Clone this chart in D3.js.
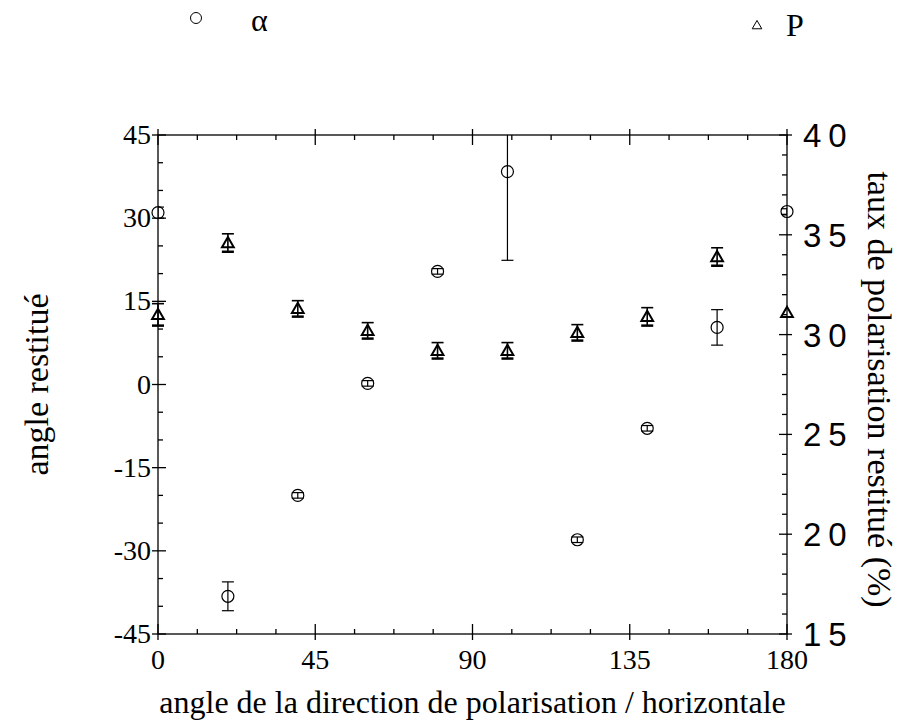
<!DOCTYPE html>
<html>
<head>
<meta charset="utf-8">
<script src="https://cdn.jsdelivr.net/npm/d3@7"></script>
<style>
  body { margin: 0; background: #fff; }
  svg { display: block; }
  text { fill: #000; }
</style>
</head>
<body>
<svg></svg>
<script>
const width = 910;
const height = 724;
const margin = { top: 135, right: 123, bottom: 90, left: 158 };

// input angle (deg)
const angles = [0, 20, 40, 60, 80, 100, 120, 140, 160, 180];
// restored angle alpha (deg) and its error
const alpha = [31, -38.2, -20, 0.2, 20.4, 38.4, -28, -7.9, 10.3, 31.2];
const alphaErr = [1, 2.6, 0.5, 0.5, 0.5, 16, 0.5, 0.5, 3.2, 0.5];
// restored polarisation rate P (%) and its error
const rate = [31.0, 34.6, 31.3, 30.2, 29.2, 29.2, 30.1, 30.9, 33.9, 31.1];
const rateErr = [0.55, 0.45, 0.4, 0.4, 0.4, 0.4, 0.4, 0.45, 0.45, 0];

const xTicks = [0, 45, 90, 135, 180];
const yLeftTicks = [-45, -30, -15, 0, 15, 30, 45];
const yRightTicks = [15, 20, 25, 30, 35, 40];

const svg = d3.select('svg')
  .attr('width', width)
  .attr('height', height);

const x = d3.scaleLinear().domain([0, 180]).range([margin.left, width - margin.right]);
const yL = d3.scaleLinear().domain([-45, 45]).range([height - margin.bottom, margin.top]);
const yR = d3.scaleLinear().domain([15, 40]).range([height - margin.bottom, margin.top]);

const serif = 'Liberation Serif, Times New Roman, serif';
const sans = 'Liberation Sans, Arial, sans-serif';

svg.append('clipPath').attr('id', 'plot')
  .append('rect')
    .attr('x', x(0)).attr('y', yL(45))
    .attr('width', x(180) - x(0)).attr('height', yL(-45) - yL(45));

// axis frame
const frame = svg.append('g').attr('stroke', '#000').attr('stroke-width', 1.3).attr('fill', 'none');
frame.append('rect')
  .attr('x', x(0)).attr('y', yL(45))
  .attr('width', x(180) - x(0)).attr('height', yL(-45) - yL(45));

// x ticks, bottom and top (minor every 11.25)
d3.range(0, 180.01, 11.25).forEach(v => {
  const major = xTicks.includes(v);
  const len = major ? 10 : 5;
  frame.append('line')
    .attr('x1', x(v)).attr('x2', x(v))
    .attr('y1', yL(-45) + (major ? 6 : 0)).attr('y2', yL(-45) - len);
  frame.append('line')
    .attr('x1', x(v)).attr('x2', x(v))
    .attr('y1', yL(45) - (major ? 6 : 0)).attr('y2', yL(45) + len);
});

// left ticks (minor every 5)
d3.range(-45, 45.01, 5).forEach(v => {
  const major = yLeftTicks.includes(v);
  frame.append('line')
    .attr('x1', x(0) - (major ? 6 : 0)).attr('x2', x(0) + (major ? 8 : 5))
    .attr('y1', yL(v)).attr('y2', yL(v));
});

// right ticks (minor every 1)
d3.range(15, 40.01, 1).forEach(v => {
  const major = yRightTicks.includes(v);
  frame.append('line')
    .attr('x1', x(180) + (major ? 5 : 0)).attr('x2', x(180) - (major ? 8 : 5))
    .attr('y1', yR(v)).attr('y2', yR(v));
});

// tick labels
svg.append('g').selectAll('text')
  .data(xTicks).enter().append('text')
    .attr('x', d => x(d))
    .attr('y', yL(-45) + 35)
    .attr('text-anchor', 'middle')
    .attr('font-family', serif)
    .attr('font-size', 28)
    .text(d => d);

svg.append('g').selectAll('text')
  .data(yLeftTicks).enter().append('text')
    .attr('x', x(0) - 7)
    .attr('y', d => yL(d) + 9)
    .attr('text-anchor', 'end')
    .attr('font-family', serif)
    .attr('font-size', 28)
    .text(d => d);

svg.append('g').selectAll('text')
  .data(yRightTicks).enter().append('text')
    .attr('x', x(180) + 16)
    .attr('y', d => yR(d) + 12)
    .attr('font-family', sans)
    .attr('font-size', 33)
    .attr('letter-spacing', 7)
    .text(d => d);

// axis titles
svg.append('text')
  .attr('x', (x(0) + x(180)) / 2)
  .attr('y', 713)
  .attr('text-anchor', 'middle')
  .attr('font-family', serif)
  .attr('font-size', 32)
  .text('angle de la direction de polarisation / horizontale');

svg.append('text')
  .attr('transform', `translate(48, ${yL(0)}) rotate(-90)`)
  .attr('text-anchor', 'middle')
  .attr('font-family', serif)
  .attr('font-size', 34)
  .text('angle restitué');

svg.append('text')
  .attr('transform', `translate(868, ${yL(0) + 5}) rotate(90)`)
  .attr('text-anchor', 'middle')
  .attr('font-family', serif)
  .attr('font-size', 34)
  .text('taux de polarisation restitué (%)');

// data
const plot = svg.append('g').attr('clip-path', 'url(#plot)');
const overflow = svg.append('g');
const cap = 6;

angles.forEach((a, i) => {
  // alpha error bar
  const g = plot.append('g').attr('stroke', '#000').attr('stroke-width', 1.2).attr('fill', 'none');
  const lo = yL(alpha[i] - alphaErr[i]);
  const hi = yL(alpha[i] + alphaErr[i]);
  g.append('line').attr('x1', x(a)).attr('x2', x(a)).attr('y1', lo).attr('y2', hi);
  g.append('line').attr('x1', x(a) - cap).attr('x2', x(a) + cap).attr('y1', lo).attr('y2', lo);
  g.append('line').attr('x1', x(a) - cap).attr('x2', x(a) + cap).attr('y1', hi).attr('y2', hi);

  // P error bar
  if (rateErr[i] > 0) {
    const rlo = yR(rate[i] - rateErr[i]);
    const rhi = yR(rate[i] + rateErr[i]);
    const h = overflow.append('g').attr('stroke', '#000').attr('stroke-width', 1.6);
    h.append('line').attr('x1', x(a)).attr('x2', x(a)).attr('y1', rlo).attr('y2', rhi);
    h.append('line').attr('x1', x(a) - cap).attr('x2', x(a) + cap).attr('y1', rlo).attr('y2', rlo).attr('stroke-width', 2.5);
    h.append('line').attr('x1', x(a) - cap).attr('x2', x(a) + cap).attr('y1', rhi).attr('y2', rhi);
  }
});

overflow.selectAll('circle.alpha')
  .data(angles).enter().append('circle')
    .attr('class', 'alpha')
    .attr('cx', d => x(d))
    .attr('cy', (d, i) => yL(alpha[i]))
    .attr('r', 6)
    .attr('fill', 'none')
    .attr('stroke', '#000')
    .attr('stroke-width', 1.2);

overflow.selectAll('path.rate')
  .data(angles).enter().append('path')
    .attr('class', 'rate')
    .attr('d', d3.symbol(d3.symbolTriangle, 60))
    .attr('transform', (d, i) => `translate(${x(d)}, ${yR(rate[i]) + 1})`)
    .attr('fill', 'none')
    .attr('stroke', '#000')
    .attr('stroke-width', 2);

// legend
svg.append('circle')
  .attr('cx', 196).attr('cy', 18).attr('r', 5.5)
  .attr('fill', 'none').attr('stroke', '#000').attr('stroke-width', 1);
svg.append('text')
  .attr('x', 251).attr('y', 31)
  .attr('font-family', serif).attr('font-size', 32)
  .text('α');
svg.append('path')
  .attr('d', d3.symbol(d3.symbolTriangle, 40))
  .attr('transform', 'translate(757, 26)')
  .attr('fill', 'none').attr('stroke', '#000').attr('stroke-width', 1);
svg.append('text')
  .attr('x', 786).attr('y', 36)
  .attr('font-family', serif).attr('font-size', 32)
  .text('P');
</script>
</body>
</html>
